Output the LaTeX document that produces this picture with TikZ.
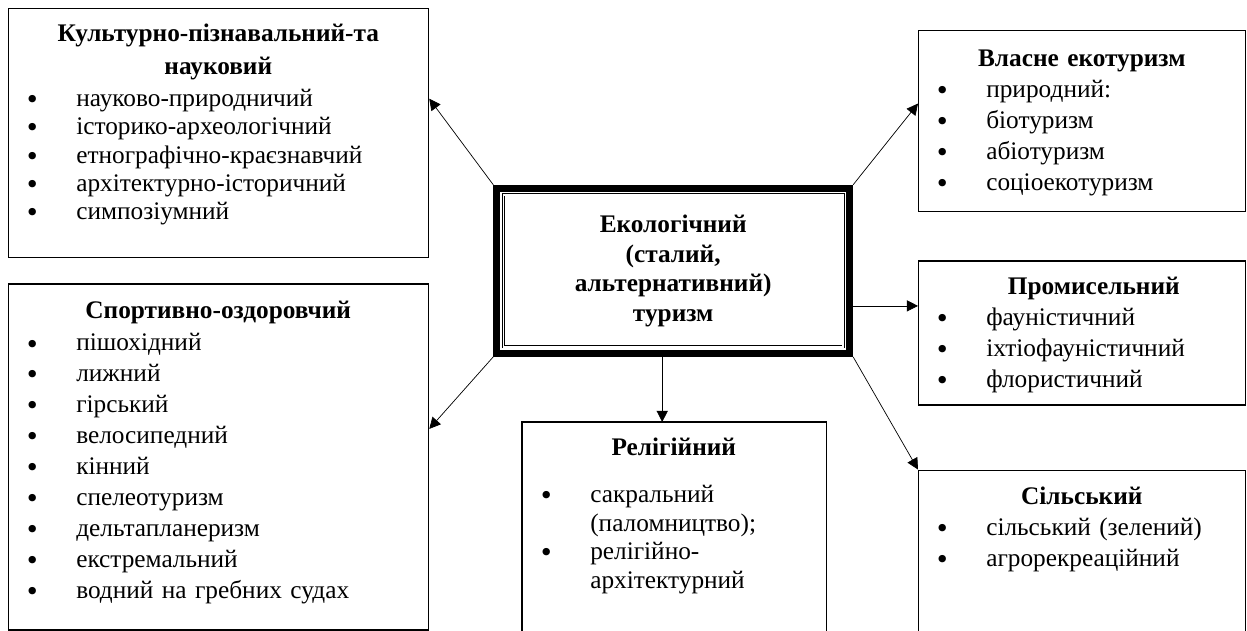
\documentclass[tikz,border=0pt]{standalone}
\usepackage{fontspec}
\setmainfont{Liberation Serif}
\newfontfamily\bulfont{DejaVu Sans}
\usetikzlibrary{arrows.meta, positioning}

\newcommand{\itm}[1]{\par\hangindent=1.2cm\hangafter=1\noindent
  \makebox[1.2cm][l]{\hspace{-2.5pt}\raisebox{-1.5pt}{\bulfont\textbullet}}#1}
\newcommand{\hd}[2][0pt]{{\centering\bfseries #2\par}\vspace{#1}}

\begin{document}
\begin{tikzpicture}[
    box/.style={draw, line width=0.9pt, inner sep=0pt, anchor=north west},
    txt/.style={inner sep=0pt, anchor=north west, align=left, font=\fontsize{18}{22}\selectfont},
    arr/.style={-{Triangle[length=8pt,width=8pt]}, line width=0.5pt}]

        \useasboundingbox (0,0) rectangle (31.175,-15.75);

        % Centre box
        \node[draw, line width=5pt, inner sep=0pt, minimum width=8.82cm, minimum height=4.125cm,
              align=center, font=\fontsize{18}{21.1}\selectfont\bfseries] (eco) at (16.83,-6.77)
              {Екологічний\\(сталий,\\альтернативний)\\туризм};
        \draw[double, double distance=1.1pt, line width=0.5pt]
              ([shift={(0.25,-0.25)}]eco.north west) rectangle ([shift={(-0.25,0.25)}]eco.south east);

        % Left boxes
        \node[box, minimum width=10.5cm, minimum height=6.225cm] (kult) at (0.2,-0.2) {};
        \node[box, below=0.625cm of kult.south west, anchor=north west, minimum width=10.5cm, minimum height=8.65cm] (sport) {};

        % Right boxes
        \node[box, minimum width=8.175cm, minimum height=4.525cm] (vlasne) at (22.95,-0.75) {};
        \node[box, below=1.2cm of vlasne.south west, anchor=north west, minimum width=8.175cm, minimum height=3.6cm] (prom) {};
        \node[box, below=1.6cm of prom.south west, anchor=north west, minimum width=8.175cm, minimum height=4.025cm] (silsk) {};

        % Bottom box (open at the page edge)
        \node[box, draw=none, minimum width=7.575cm, minimum height=5.25cm] (rel) at (13.05,-10.55) {};
        \draw[line width=0.9pt] (rel.south west) -- (rel.north west) -- (rel.north east) -- (rel.south east);

        % Texts
        \node[txt, text width=9.5cm, font=\fontsize{18}{20.1}\selectfont] (kulttxt) at ([shift={(0.5,-0.38)}]kult.north west)
            {\hd[3pt]{\setlength{\baselineskip}{23.5pt}Культурно-пізнавальний-та\\науковий}
             \itm{науково-природничий}
             \itm{історико-археологічний}
             \itm{етнографічно-краєзнавчий}
             \itm{архітектурно-історичний}
             \itm{симпозіумний}\par};
        \node[txt, text width=9.5cm] (sporttxt) at ([shift={(0.5,-0.44)}]sport.north west)
            {\hd[1pt]{Спортивно-оздоровчий}
             \itm{пішохідний}
             \itm{лижний}
             \itm{гірський}
             \itm{велосипедний}
             \itm{кінний}
             \itm{спелеотуризм}
             \itm{дельтапланеризм}
             \itm{екстремальний}
             \itm{водний на гребних судах}\par};
        \node[txt, text width=7.175cm] (vlasnetxt) at ([shift={(0.5,-0.5)}]vlasne.north west)
            {\hd{Власне екотуризм}
             \itm{природний:}
             \itm{біотуризм}
             \itm{абіотуризм}
             \itm{соціоекотуризм}\par};
        \node[txt, text width=7.175cm] (promtxt) at ([shift={(0.5,-0.41)}]prom.north west)
            {\hd{\hspace*{0.6cm}Промисельний}
             \itm{фауністичний}
             \itm{іхтіофауністичний}
             \itm{флористичний}\par};
        \node[txt, text width=7.175cm] (silsktxt) at ([shift={(0.5,-0.43)}]silsk.north west)
            {\hd{Сільський}
             \itm{сільський (зелений)}
             \itm{агрорекреаційний}\par};
        \node[txt, text width=6.575cm, font=\fontsize{18}{20.4}\selectfont] (reltxt) at ([shift={(0.5,-0.4)}]rel.north west)
            {\hd[12.8pt]{Релігійний}
             \itm{сакральний\newline(паломництво);}
             \itm{релігійно-\newline архітектурний}\par};

        % Arrows
        \draw[arr] (eco.north west) -- ([yshift=0.86cm]kult.east);
        \draw[arr] (eco.south west) -- ([yshift=0.7cm]sport.east);
        \draw[arr] (eco.north east) -- ([yshift=0.44cm]vlasne.west);
        \coordinate (promin) at ([yshift=0.675cm]prom.west);
        \draw[arr] (eco.east |- promin) -- (promin);
        \draw[arr] (eco.south east) -- (silsk.north west);
        \draw[arr] ([xshift=-0.275cm]eco.south) -- ([xshift=-0.275cm]eco.south |- rel.north);

\end{tikzpicture}
\end{document}
